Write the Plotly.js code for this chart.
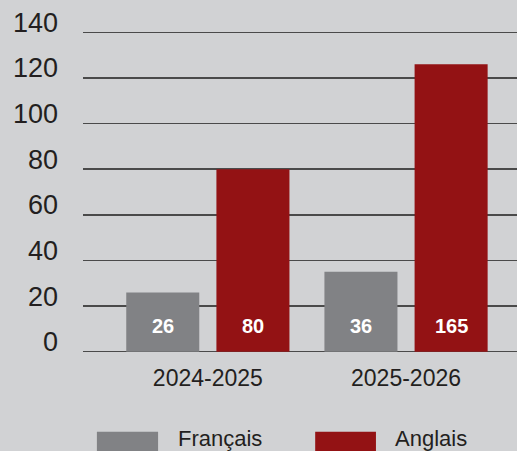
<!DOCTYPE html>
<html>
<head>
<meta charset="utf-8">
<script src="https://cdn.plot.ly/plotly-3.0.1.min.js"></script>
<style>
  html, body { margin: 0; padding: 0; background: #d1d2d4; }
  #chart { width: 517px; height: 451px; }
</style>
</head>
<body>
<div id="chart"></div>
<script>
// Bar heights as drawn, and the labels printed inside them (they differ on the chart).
const years = ["2024-2025", "2025-2026"];
const francaisHeights = [26, 35];
const anglaisHeights = [80, 126];
const francaisLabels = ["26", "36"];
const anglaisLabels = ["80", "165"];
const seriesNames = ["Français", "Anglais"];

const COLORS = { francais: "#818285", anglais: "#931214", grid: "#4a4a4a", text: "#231f20", bg: "#d1d2d4" };
const FONT = "Liberation Sans, Arial, sans-serif";
const BARGAP = 0.09;

const traces = [
  { type: "bar", x: years, y: francaisHeights, name: seriesNames[0], marker: { color: COLORS.francais }, hoverinfo: "skip" },
  { type: "bar", x: years, y: anglaisHeights, name: seriesNames[1], marker: { color: COLORS.anglais }, hoverinfo: "skip" },
];

// Value labels sit near the base of each bar.
const half = (1 - BARGAP) / 4;
const annotations = [];
years.forEach((yr, i) => {
  [francaisLabels, anglaisLabels].forEach((labels, j) => {
    annotations.push({
      xref: "x", yref: "y", x: i + (j === 0 ? -half : half), y: 0,
      text: "<b>" + labels[i] + "</b>", showarrow: false, yanchor: "middle", yshift: 26,
      font: { family: FONT, size: 20, color: "white" },
    });
  });
});

// Hand-drawn legend with wide swatches.
const legendPos = [{ x0: 0.032, x1: 0.173, tx: 0.214 }, { x0: 0.535, x1: 0.675, tx: 0.714 }];
const legendColors = [COLORS.francais, COLORS.anglais];
const shapes = legendPos.map((p, k) => ({
  type: "rect", xref: "paper", yref: "paper", x0: p.x0, x1: p.x1, y0: -0.32, y1: -0.24,
  fillcolor: legendColors[k], line: { width: 0 },
}));
legendPos.forEach((p, k) => {
  annotations.push({
    xref: "paper", yref: "paper", x: p.tx, y: -0.26, xanchor: "left", yanchor: "middle",
    text: seriesNames[k], showarrow: false, font: { family: FONT, size: 22, color: COLORS.text },
  });
});

const layout = {
  width: 517, height: 451,
  margin: { l: 83, r: 0, t: 30, b: 97 },
  paper_bgcolor: COLORS.bg, plot_bgcolor: COLORS.bg,
  font: { family: FONT, color: COLORS.text },
  barmode: "group", bargap: BARGAP, bargroupgap: 0.19,
  showlegend: false,
  xaxis: {
    type: "category", range: [-0.63, 1.56], ticks: "", showgrid: false, zeroline: false,
    tickfont: { family: FONT, size: 23, color: COLORS.text }, ticklabelstandoff: 8,
    fixedrange: true,
  },
  yaxis: {
    range: [-1, 141], tickvals: [0, 20, 40, 60, 80, 100, 120, 140], ticks: "",
    showgrid: true, gridcolor: COLORS.grid, gridwidth: 1.5,
    zeroline: false, tickfont: { family: FONT, size: 27, color: COLORS.text },
    ticklabelstandoff: 24, ticklabelshift: -10, fixedrange: true,
  },
  shapes, annotations,
};

Plotly.newPlot("chart", traces, layout, { displayModeBar: false, staticPlot: true });
</script>
</body>
</html>
